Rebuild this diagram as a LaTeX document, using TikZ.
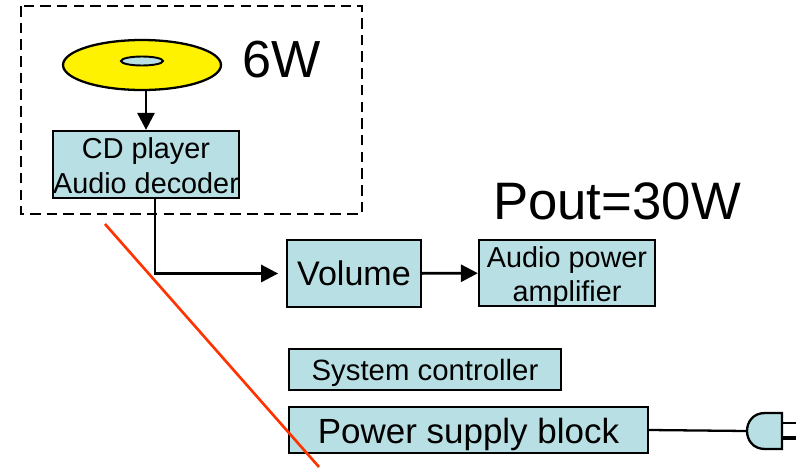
\documentclass[tikz,border=0pt]{standalone}
\usepackage{fontspec}
\setmainfont{Liberation Sans}
\usetikzlibrary{arrows.meta,shapes.geometric}
\newcommand{\dropby}[1]{\rule{0pt}{#1}}
\tikzset{
  blockbox/.style={draw,line width=1.3pt,fill=boxblue,inner sep=0pt,align=center},
  wire/.style={line width=1.3pt},
  flow/.style={line width=1.6pt,-{Triangle[length=0.34cm,width=0.34cm]}},
}
\definecolor{boxblue}{RGB}{184,223,227}
\definecolor{cutred}{RGB}{255,51,0}
\begin{document}
\begin{tikzpicture}[x=0.02cm,y=-0.02cm]
\useasboundingbox (0,0) rectangle (802,467);
\draw[line width=1.4pt,dash pattern=on 6pt off 3.5pt](21,6) rectangle (362,214);
\node[draw,line width=1.3pt,fill=yellow,ellipse,minimum width=3.16cm,minimum height=1cm,inner sep=0pt] (disc) at (142,65) {};
\node[draw,line width=1.1pt,fill=boxblue,ellipse,minimum width=0.84cm,minimum height=0.18cm,inner sep=0pt] (hole) at (142,61) {};
\node[font=\fontsize{29.7}{35}\selectfont] (sixw) at (281.5,60) {6W};
\node[blockbox,minimum width=3.66cm,minimum height=1.34cm,font=\fontsize{16.4}{19.8}\selectfont] (cd) at (146,164.5) {\dropby{13.1pt}CD player\\Audio decoder};
\node[blockbox,minimum width=2.67cm,minimum height=1.34cm,font=\fontsize{19.4}{23}\selectfont] (volume) at (354,273.5) {Volume};
\node[blockbox,minimum width=3.52cm,minimum height=1.32cm,font=\fontsize{16.4}{19.8}\selectfont] (amp) at (567,273) {\dropby{13pt}Audio power\\\smash{amplifier}};
\node[font=\fontsize{30}{35}\selectfont] (pout) at (617,201) {Pout=30W};
\node[blockbox,minimum width=5.44cm,minimum height=0.82cm,font=\fontsize{16.7}{20}\selectfont] (sys) at (425,369.5) {\dropby{16.5pt}System controller};
\node[blockbox,minimum width=7.18cm,minimum height=0.92cm,font=\fontsize{19.9}{23}\selectfont] (power) at (468.5,430) {\dropby{20pt}Power supply block};
\draw[flow](disc.south -| cd.north) -- (cd.north);
\draw[flow,shorten >=0.16cm]([xshift=0.18cm]cd.south) |- (volume.west);
\draw[flow](volume) -- (amp);
% plug
\coordinate (plugin) at (747,431);
\draw[wire](power.east) -- (plugin);
\draw[wire,fill=boxblue](782,413) -- (765,413) .. controls (741,413) and (741,449) .. (765,449) -- (782,449) -- cycle;
\draw[wire](782,423) -- (796,423);
\draw[wire,line width=1.8pt](782,438) -- (796,438);
\draw[cutred,line width=1.5pt](105,224) -- (319,467);
\end{tikzpicture}
\end{document}
